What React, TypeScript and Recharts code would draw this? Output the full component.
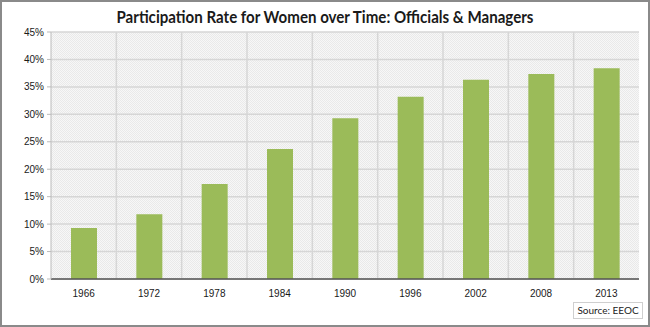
import { Bar, BarChart, CartesianGrid, XAxis, YAxis } from "recharts";

const years = ["1966", "1972", "1978", "1984", "1990", "1996", "2002", "2008", "2013"];
const womenShare = [9.3, 11.8, 17.3, 23.7, 29.3, 33.2, 36.3, 37.35, 38.4];
const yTicks = [0, 5, 10, 15, 20, 25, 30, 35, 40, 45];

const data = years.map((year, i) => ({ year, share: womenShare[i] }));

const font = "'Liberation Sans', Arial, sans-serif";

export default function App() {
  return (
    <div style={{ position: "fixed", left: 0, top: 0, width: 650, height: 327, background: "#fff" }}>
      <svg width={0} height={0} style={{ position: "absolute" }}>
        <defs>
          <pattern id="checker" width={2} height={2} patternUnits="userSpaceOnUse">
            <rect width={2} height={2} fill="#f7f7f7" />
            <rect width={1} height={1} fill="#e9e9e9" />
            <rect x={1} y={1} width={1} height={1} fill="#e9e9e9" />
          </pattern>
        </defs>
      </svg>
      <div
        style={{
          position: "absolute",
          inset: 0,
          border: "2px solid #8a8a8a",
          boxSizing: "border-box",
        }}
      />
      <svg width={650} height={30} style={{ position: "absolute", left: 0, top: 4 }}>
        <text
          x={325}
          y={19}
          textAnchor="middle"
          textLength={417}
          lengthAdjust="spacingAndGlyphs"
          fontFamily="Lato, 'Liberation Sans', sans-serif"
          fontWeight="bold"
          fontSize={17}
          fill="#1a1a1a"
        >
          Participation Rate for Women over Time: Officials &amp; Managers
        </text>
      </svg>
      <div style={{ position: "absolute", left: 0, top: 0 }}>
        <BarChart
          width={650}
          height={327}
          data={data}
          margin={{ top: 32, right: 11, left: 0, bottom: 18 }}
          barSize={26}
        >
          <CartesianGrid
            fill="url(#checker)"
            stroke="#d6d6d6"
            strokeWidth={1.5}
            verticalCoordinatesGenerator={({ offset }: any) =>
              years.slice(1).map((_, i) => offset.left + ((i + 1) * offset.width) / years.length)
            }
          />
          <XAxis
            dataKey="year"
            height={30}
            tickLine={false}
            axisLine={{ stroke: "#555", strokeWidth: 1.5 }}
            tick={{ fontSize: 10, fill: "#1a1a1a", fontFamily: font }}
            tickMargin={5}
          />
          <YAxis
            width={51}
            domain={[0, 45]}
            ticks={yTicks}
            tickFormatter={(v) => `${v}%`}
            axisLine={{ stroke: "#bbb" }}
            tickLine={{ stroke: "#bbb" }}
            tickSize={4}
            tick={{ fontSize: 10, fill: "#1a1a1a", fontFamily: font }}
            tickMargin={3}
          />
          <Bar dataKey="share" fill="#9bbb59" isAnimationActive={false} />
        </BarChart>
      </div>
      <div
        style={{
          position: "absolute",
          left: 573,
          top: 302,
          width: 70,
          height: 17,
          border: "1px solid #cfcfcf",
          boxSizing: "border-box",
          fontFamily: "Lato, 'Liberation Sans', sans-serif",
          fontSize: 10,
          color: "#222",
          lineHeight: "15px",
          textAlign: "center",
          whiteSpace: "nowrap",
          background: "#fff",
        }}
      >
        Source: EEOC
      </div>
    </div>
  );
}
